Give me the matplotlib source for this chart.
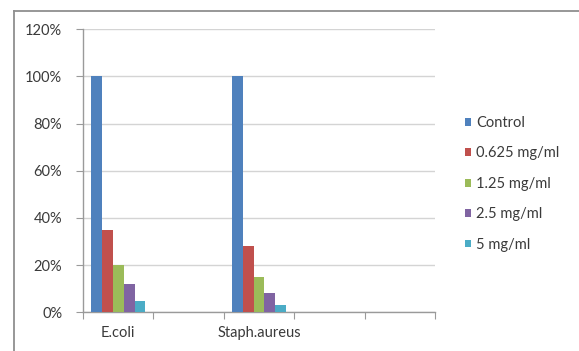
import matplotlib
matplotlib.use("Agg")
import matplotlib.pyplot as plt
from matplotlib.lines import Line2D
from matplotlib.patches import Patch
import numpy as np

plt.rcParams['font.family'] = ['Lato', 'DejaVu Sans']

# Category slots on the x axis (only two carry data)
categories = ["E.coli", "", "Staph.aureus", "", ""]
series_names = ["Control", "0.625 mg/ml", "1.25 mg/ml", "2.5 mg/ml", "5 mg/ml"]
# Growth relative to control, per organism
ecoli = [1.00, 0.35, 0.20, 0.12, 0.05]
staph = [1.00, 0.28, 0.15, 0.08, 0.03]
y_ticks = [0.0, 0.2, 0.4, 0.6, 0.8, 1.0, 1.2]
y_tick_labels = ["0%", "20%", "40%", "60%", "80%", "100%", "120%"]

colors = ["#4F81BD", "#C0504D", "#9BBB59", "#8064A2", "#4BACC6"]
text_color = "#3a3a3a"

W, H = 579, 351
fig = plt.figure(figsize=(W / 100, H / 100), dpi=100)
ax = fig.add_axes([83 / W, (H - 312.3) / H, (435 - 83) / W, (312.3 - 29.3) / H])

values = {0: ecoli, 2: staph}
n = len(series_names)
bw = 0.1546
offsets = (np.arange(n) - (n - 1) / 2) * bw
for i in range(n):
    xs = [c + offsets[i] for c in values]
    ys = [values[c][i] for c in values]
    ax.bar(xs, ys, width=bw, color=colors[i], edgecolor="none", zorder=3)

ax.set_xlim(-0.5, len(categories) - 0.5)
ax.set_ylim(0, 1.2)
ax.set_yticks(y_ticks)
ax.set_yticklabels(y_tick_labels)
ax.set_xticks(np.arange(len(categories) + 1) - 0.5, minor=False)
ax.set_xticklabels([])
ax.set_xticks(np.arange(len(categories)), minor=True)
ax.set_xticklabels(categories, minor=True)

ax.grid(axis="y", color="#d4d4d4", linewidth=1.0, zorder=0)
for s in ["top", "right"]:
    ax.spines[s].set_visible(False)
for s in ["left", "bottom"]:
    ax.spines[s].set_color("#9a9a9a")
    ax.spines[s].set_linewidth(1.0)

fs = 10.5
ax.tick_params(axis="y", which="major", length=5, color="#9a9a9a",
               labelsize=fs, labelcolor=text_color, pad=10)
ax.tick_params(axis="x", which="major", length=5, color="#9a9a9a")
ax.tick_params(axis="x", which="minor", length=0, labelsize=fs,
               labelcolor=text_color, pad=10)

# Legend
handles = [Patch(facecolor=c, edgecolor="none") for c in colors]
leg = fig.legend(handles, series_names, loc="upper left",
                 bbox_to_anchor=(459 / W, 1 - 110 / H), frameon=False,
                 fontsize=fs, labelcolor=text_color,
                 handlelength=0.45, handleheight=0.45, handletextpad=0.3,
                 labelspacing=1.13, borderaxespad=0)

# Chart-area frame
frame_color = "#8f8f8f"
fig.add_artist(Line2D([13.5 / W, 13.5 / W], [0, 1 - 10.5 / H],
                      transform=fig.transFigure, color=frame_color, linewidth=1.3))
fig.add_artist(Line2D([13.5 / W, 1], [1 - 10.5 / H, 1 - 10.5 / H],
                      transform=fig.transFigure, color=frame_color, linewidth=1.3))

fig.savefig("out.png", dpi=100)
